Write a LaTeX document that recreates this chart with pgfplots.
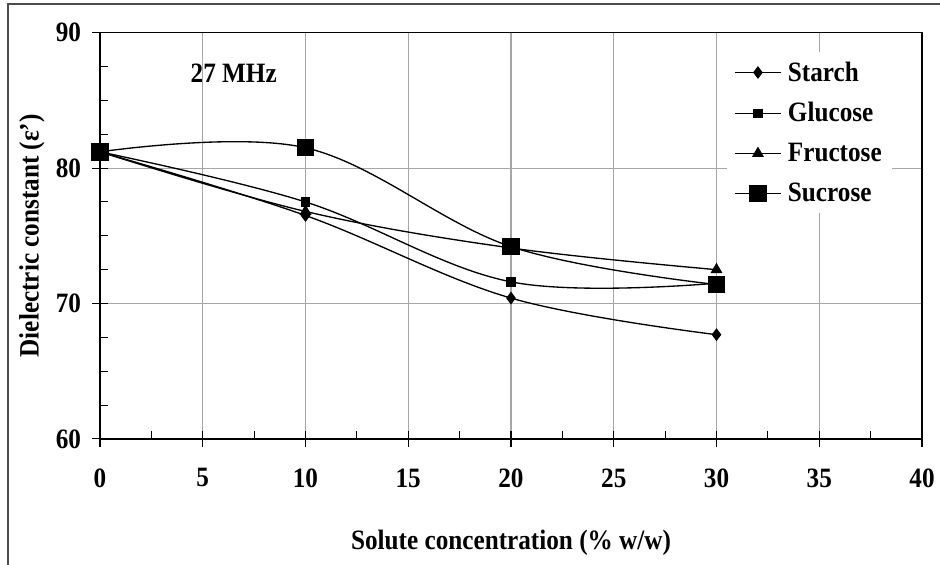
\documentclass[border=0pt]{standalone}
\usepackage{fontspec}
\setmainfont{Liberation Serif}[FakeStretch=0.9]
\usepackage{pgfplots}
\pgfplotsset{compat=1.18}

\newcommand{\lbl}{\fontsize{21}{25}\selectfont\bfseries}

\begin{document}
\begin{tikzpicture}
% page size: 940x565 px at 0.75pt per px
\useasboundingbox (-75pt,-94.5pt) rectangle (630pt,329.2pt);
\draw[line width=1pt, black!70] (-69pt,-100pt) -- (-69pt,326.2pt) -- (640pt,326.2pt);

\begin{axis}[
  at={(0,0)}, anchor=south west,
  scale only axis,
  width=616.5pt, height=304.7pt,
  xmin=0, xmax=40, ymin=60, ymax=90,
  xtick={0,5,...,40}, ytick={60,70,80,90},
  minor x tick num=1, minor y tick num=3,
  xtick pos=bottom, ytick pos=left,
  tick align=inside,
  major tick length=12pt, minor tick length=6pt,
  major x tick style={yshift=-6pt},
  major y tick style={xshift=-6pt},
  tick style={black, line width=0.8pt},
  xmajorgrids, ymajorgrids,
  grid style={gray!70, line width=0.8pt},
  axis line style={black, line width=0.8pt},
  /pgf/number format/assume math mode=true,
  tick label style={font=\lbl},
  xticklabel style={inner sep=0pt, anchor=north, yshift=-22pt},
  yticklabel style={inner sep=0pt, anchor=east, xshift=-14pt},
  xlabel={Solute concentration (\% w/w)},
  ylabel={Dielectric constant (ε')},
  label style={font=\lbl},
  xlabel style={at={(axis description cs:0.5,-0.256)}, anchor=center},
  ylabel style={at={(axis description cs:-0.0827,0.5)}, anchor=center},
  clip=false,
  legend style={at={(rel axis cs:0.762,0.952)}, anchor=north west,
    draw=none, fill=white, font=\lbl, row sep=10.5pt,
    inner xsep=6pt, inner ysep=5pt,
    /tikz/every odd column/.append style={column sep=3pt}},
  legend cell align=left,
  legend image code/.code={
    \draw[mark repeat=2, mark phase=2] plot coordinates {(0pt,0pt) (17pt,0pt) (34pt,0pt)};
  },
  every axis plot/.append style={black, line width=1pt, smooth, tension=0.6},
]

\addplot[mark=diamond*, mark size=4pt] coordinates {
  (0,81.2) (10,76.5) (20,70.4) (30,67.7)
};
\addlegendentry{Starch}

\addplot[mark=square*, mark size=3pt] coordinates {
  (0,81.2) (10,77.5) (20,71.6) (30,71.5)
};
\addlegendentry{Glucose}

\addplot[mark=triangle*, mark size=4.2pt] coordinates {
  (0,81.2) (10,76.8) (20,74.1) (30,72.5)
};
\addlegendentry{Fructose}

\addplot[mark=square*, mark size=6pt] coordinates {
  (0,81.2) (10,81.5) (20,74.2) (30,71.4)
};
\addlegendentry{Sucrose}

\draw[line width=1.6pt] (rel axis cs:0,0) -- (rel axis cs:1,0);
\draw[line width=1.2pt] (rel axis cs:0,0) -- (rel axis cs:0,1);

\node[font=\lbl, anchor=west, inner sep=0pt] at (axis cs:4.4,87.0) {27 MHz};

\end{axis}
\end{tikzpicture}
\end{document}
